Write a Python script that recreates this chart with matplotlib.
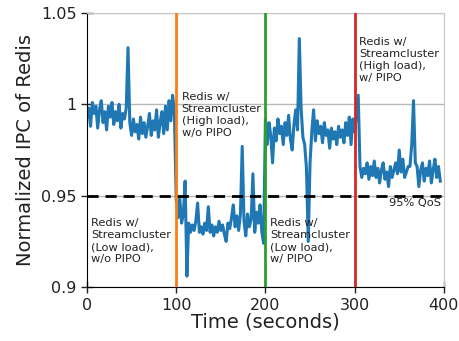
import numpy as np
import matplotlib
matplotlib.use("Agg")
import matplotlib.pyplot as plt

# Normalized IPC of Redis, sampled every 2 seconds
seg_low_nopipo = [0.993, 0.998, 0.988, 1.001, 0.995, 0.999, 0.987, 0.997, 1.002, 0.990,
                  0.996, 0.986, 0.999, 0.993, 1.001, 0.989, 0.996, 0.991, 1.000, 0.987,
                  0.995, 0.992, 0.998, 1.031, 0.990, 0.983, 0.992, 0.985, 0.989, 0.981,
                  0.993, 0.984, 0.990, 0.982, 0.988, 0.995, 0.983, 0.991, 0.986, 0.997,
                  0.982, 0.990, 0.996, 0.984, 0.999, 0.986, 1.002, 0.991, 1.005, 0.995]
seg_high_nopipo = [0.948, 0.938, 0.949, 0.935, 0.940, 0.958, 0.906, 0.935, 0.930, 0.934,
                   0.931, 0.936, 0.946, 0.930, 0.933, 0.929, 0.935, 0.931, 0.944, 0.930,
                   0.934, 0.928, 0.933, 0.930, 0.936, 0.931, 0.934, 0.929, 0.925, 0.935,
                   0.932, 0.938, 0.945, 0.933, 0.939, 0.931, 0.940, 0.977, 0.936, 0.928,
                   0.940, 0.933, 0.937, 0.962, 0.930, 0.941, 0.935, 0.945, 0.930, 0.924]
seg_low_pipo = [0.992, 0.978, 0.990, 0.983, 0.968, 0.987, 0.980, 0.992, 0.984, 0.988,
                0.978, 0.990, 0.983, 0.994, 0.981, 0.975, 0.989, 0.997, 0.986, 1.036,
                0.998, 0.982, 0.978, 0.965, 0.925, 0.968, 0.985, 0.997, 0.980, 0.991,
                0.984, 0.988, 0.979, 0.990, 0.983, 0.986, 0.976, 0.987, 0.981, 0.985,
                0.978, 0.988, 0.982, 0.986, 0.979, 0.990, 0.983, 0.993, 0.978, 0.992]
seg_high_pipo = [0.985, 0.995, 1.005, 0.966, 0.960, 0.965, 0.962, 0.968, 0.959, 0.966,
                 0.961, 0.969, 0.960, 0.965, 0.957, 0.964, 0.968, 0.959, 0.963, 0.955,
                 0.966, 0.960, 0.964, 0.968, 0.962, 0.975, 0.963, 0.970, 0.960, 0.963,
                 0.966, 0.966, 0.978, 1.002, 0.968, 0.966, 0.955, 0.964, 0.968, 0.958,
                 0.965, 0.961, 0.969, 0.957, 0.964, 0.970, 0.960, 0.966, 0.958]

ipc = seg_low_nopipo + seg_high_nopipo + seg_low_pipo + seg_high_pipo
sample_step = 2
time = sample_step * np.arange(len(ipc))

phase_times = [100, 200, 300]
phase_colors = ["#ff7f0e", "#2ca02c", "#d62728"]
qos = 0.95

xticks = [0, 100, 200, 300, 400]
yticks = [0.9, 0.95, 1.0, 1.05]
yticklabels = ["0.9", "0.95", "1", "1.05"]

fig = plt.figure(figsize=(4.59, 3.41), dpi=100)
ax = fig.add_axes([0.1895, 0.158, 0.7775, 0.804])

ax.plot(time, ipc, color="#1f77b4", lw=2.2, zorder=2)
for t, c in zip(phase_times, phase_colors):
    ax.axvline(t, color=c, lw=2, zorder=3)
ax.axhline(qos, color="black", lw=2, ls=(0, (4, 2.5)), zorder=4)

ax.set_xlim(0, 400)
ax.set_ylim(0.9, 1.05)
ax.set_xticks(xticks)
ax.set_yticks(yticks)
ax.set_yticklabels(yticklabels)
ax.tick_params(direction="inout", length=8, width=1, labelsize=11.5, colors="#222222")
ax.yaxis.grid(True, color="#b8b8b8", lw=1)
ax.set_axisbelow(True)
for s in ["top", "right"]:
    ax.spines[s].set_color("#c8c8c8")
for s in ["left", "bottom"]:
    ax.spines[s].set_color("black")

ax.set_xlabel("Time (seconds)", fontsize=14, labelpad=0, color="#222222")
ax.set_ylabel("Normalized IPC of Redis", fontsize=14, color="#222222")

fs = 8.2
tc = "#222222"
ls = 1.25
ax.text(106, 1.0068, "Redis w/\nStreamcluster\n(High load),\nw/o PIPO",
        fontsize=fs, va="top", ha="left", zorder=5, color=tc, linespacing=ls)
ax.text(5, 0.9378, "Redis w/\nStreamcluster\n(Low load),\nw/o PIPO",
        fontsize=fs, va="top", ha="left", zorder=5, color=tc, linespacing=ls)
ax.text(205, 0.9378, "Redis w/\nStreamcluster\n(Low load),\nw/ PIPO",
        fontsize=fs, va="top", ha="left", zorder=5, color=tc, linespacing=ls)
ax.text(305, 1.0368, "Redis w/\nStreamcluster\n(High load),\nw/ PIPO",
        fontsize=fs, va="top", ha="left", zorder=5, color=tc, linespacing=ls)
ax.text(397, 0.9485, "95% QoS", fontsize=fs, va="top", ha="right", zorder=5, color=tc)

fig.savefig("out.png", dpi=100)
